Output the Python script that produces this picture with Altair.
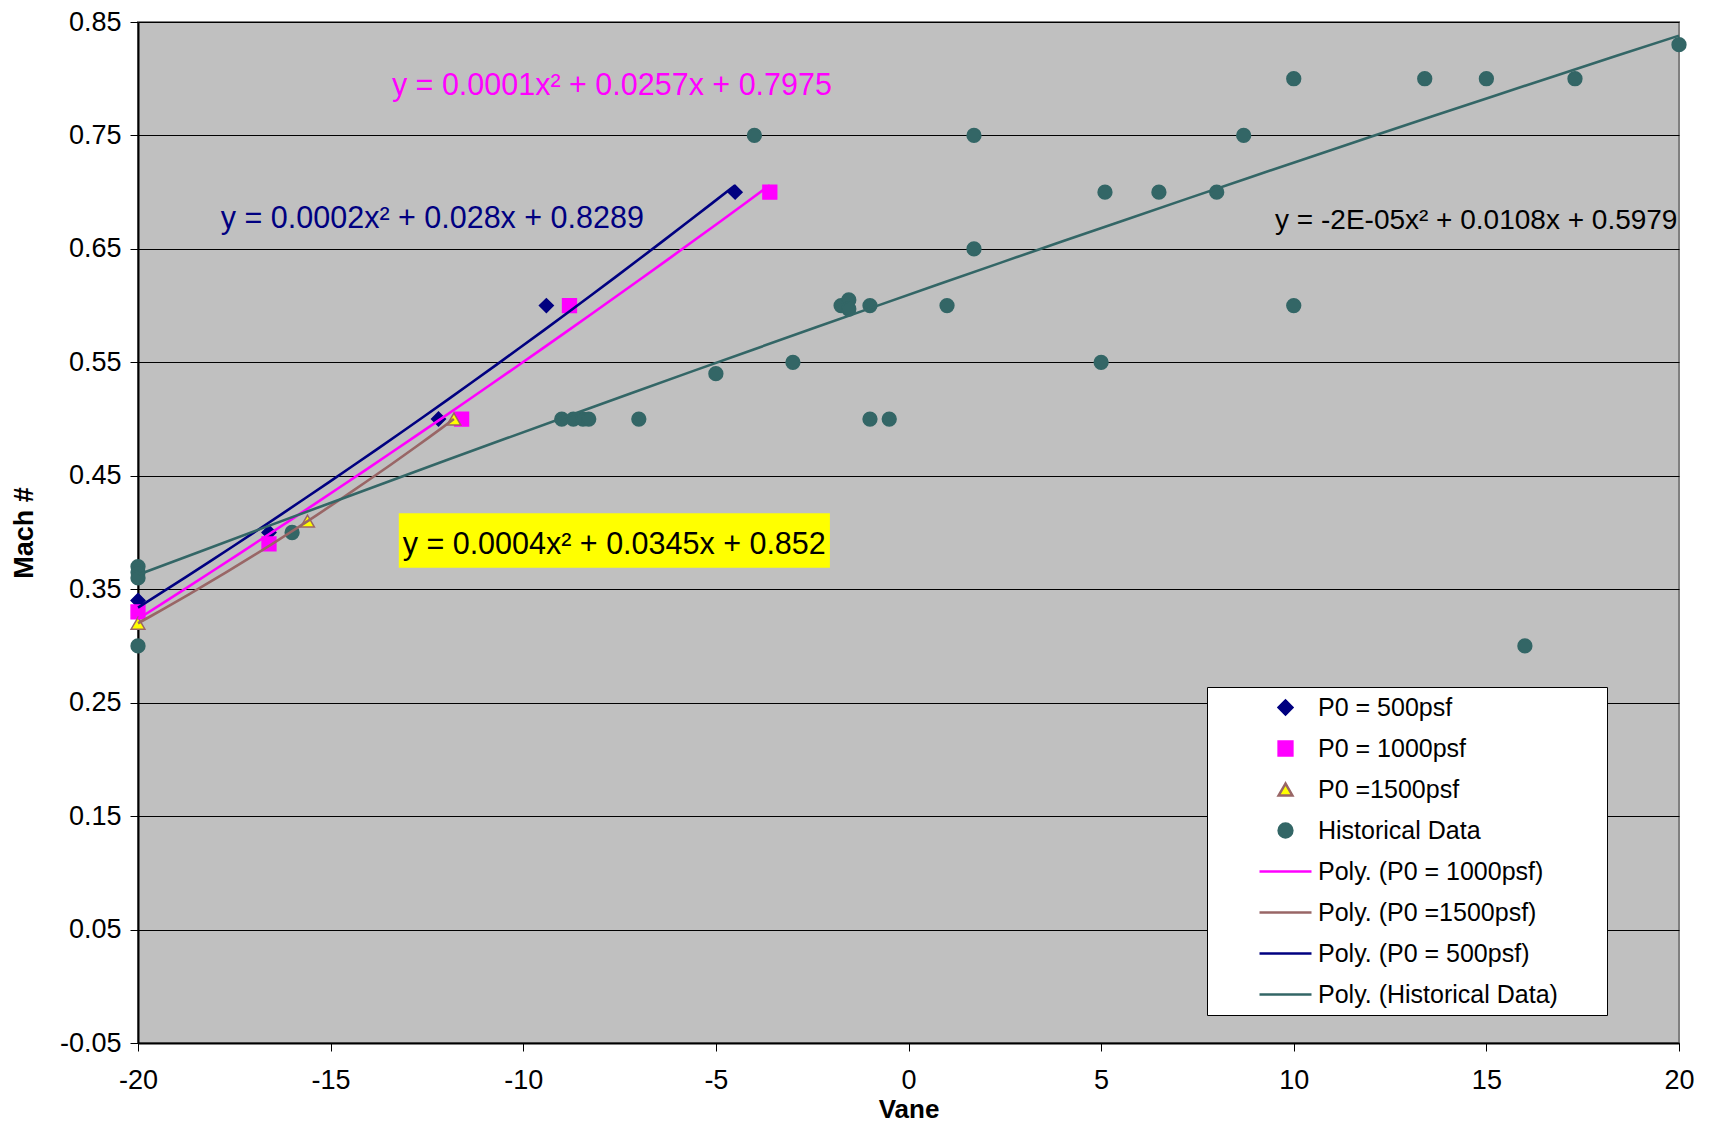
import altair as alt
import pandas as pd

# ---------------- data ----------------
p500_x = [-20.0, -16.6, -12.2, -9.4, -4.5]
p500_y = [0.34, 0.40, 0.50, 0.60, 0.70]

p1000_x = [-20.0, -16.6, -11.6, -8.8, -3.6]
p1000_y = [0.33, 0.39, 0.50, 0.60, 0.70]

p1500_x = [-20.0, -15.6, -11.8]
p1500_y = [0.32, 0.41, 0.50]

# historical points used by the trendline
hist_x = [-20, -20, -20, -16.0, -9.0, -8.7, -8.45, -8.3, -7.0, -5.0, -4.0, -3.0,
          -1.75, -1.55, -1.55, -1.0, -1.0, -0.5, 1.0, 1.7, 1.7, 5.0, 5.1, 6.5, 8.0,
          8.7, 10.0, 10.0, 13.4, 15.0, 17.3, 20.0]
hist_y = [0.37, 0.365, 0.36, 0.40, 0.50, 0.50, 0.50, 0.50, 0.50, 0.54, 0.75, 0.55,
          0.60, 0.605, 0.597, 0.60, 0.50, 0.50, 0.60, 0.75, 0.65, 0.55, 0.70, 0.70, 0.70,
          0.75, 0.80, 0.60, 0.80, 0.80, 0.80, 0.83]
# historical-style points not included in the displayed fit
hist_extra_x = [-20.0, 16.0]
hist_extra_y = [0.30, 0.30]

series_names = ["P0 = 500psf", "P0 = 1000psf", "P0 =1500psf", "Historical Data"]
legend_order = ["P0 = 500psf", "P0 = 1000psf", "P0 =1500psf", "Historical Data",
                "Poly. (P0 = 1000psf)", "Poly. (P0 =1500psf)", "Poly. (P0 = 500psf)",
                "Poly. (Historical Data)"]

x_ticks = [-20, -15, -10, -5, 0, 5, 10, 15, 20]
y_ticks = [-0.05, 0.05, 0.15, 0.25, 0.35, 0.45, 0.55, 0.65, 0.75, 0.85]

# trendline equations shown on the chart
ann_text = ["y = 0.0001x\u00b2 + 0.0257x + 0.7975",
            "y = 0.0002x\u00b2 + 0.028x + 0.8289",
            "y = 0.0004x\u00b2 + 0.0345x + 0.852"]
ann_x = [-13.41, -17.85, -13.13]
ann_y = [0.794, 0.676, 0.389]
ann_color = ["#FF00FF", "#000080", "#000000"]

ann_r_text = ["y = -2E-05x\u00b2 + 0.0108x + 0.5979"]
ann_r_x = [19.96]
ann_r_y = [0.675]

box_x1 = [-13.23]
box_x2 = [-2.04]
box_y1 = [0.417]
box_y2 = [0.369]

# ---------------- tables ----------------
rows = []
for name, xs, ys in zip(series_names,
                        [p500_x, p1000_x, p1500_x, hist_x],
                        [p500_y, p1000_y, p1500_y, hist_y]):
    for xv, yv in zip(xs, ys):
        rows.append({"grp": name, "series": name, "x": xv, "y": yv, "fit": 1})
for xv, yv in zip(hist_extra_x, hist_extra_y):
    rows.append({"grp": "Historical Data", "series": "Historical Data",
                 "x": xv, "y": yv, "fit": 0})
df = pd.DataFrame(rows)

ann_df = pd.DataFrame({"t": ann_text, "x": ann_x, "y": ann_y, "c": ann_color})
ann_r_df = pd.DataFrame({"t": ann_r_text, "x": ann_r_x, "y": ann_r_y})
box_df = pd.DataFrame({"x1": box_x1, "x2": box_x2, "y1": box_y1, "y2": box_y2})

FONT = "Liberation Sans"

shape_scale = alt.Scale(domain=legend_order,
                        range=["diamond", "square", "triangle-up", "circle",
                               "stroke", "stroke", "stroke", "stroke"])
fill_scale = alt.Scale(domain=legend_order,
                       range=["#000080", "#FF00FF", "#FFFF00", "#336666",
                              "transparent", "transparent", "transparent", "transparent"])
stroke_scale = alt.Scale(domain=legend_order,
                         range=["#000080", "#FF00FF", "#996666", "#336666",
                                "#FF00FF", "#996666", "#000080", "#336666"])
size_scale = alt.Scale(type="ordinal", domain=legend_order,
                       range=[190, 190, 190, 190, 2704, 2704, 2704, 2704])

legend = alt.Legend(
    title=None, orient="none", legendX=1069, legendY=665,
    fillColor="white", strokeColor="black", padding=0,
    labelFont=FONT, labelFontSize=25, labelColor="black", labelLimit=800,
    symbolStrokeWidth=2.5, rowPadding=0, clipHeight=41,
    symbolOffset=51, labelOffset=5,
    labelExpr="datum.label + '" + "\u00a0" * 7 + "\u200b'",
)

x_enc = alt.X("x:Q", scale=alt.Scale(domain=[-20, 20], nice=False, zero=False),
              axis=alt.Axis(values=x_ticks, title="Vane", grid=False, labelFlush=False,
                            labelExpr="replace(format(datum.value, 'd'), '\u2212', '-')",
                            tickSize=8, labelPadding=16, titlePadding=3,
                            titleFontSize=26))
y_enc = alt.Y("y:Q", scale=alt.Scale(domain=[-0.05, 0.85], nice=False, zero=False),
              axis=alt.Axis(values=y_ticks, title="Mach #", grid=True, labelFlush=False,
                            labelExpr="replace(format(datum.value, '.2f'), '\u2212', '-')",
                            tickSize=8, labelPadding=9, titleX=-114,
                            titleBaseline="middle"))

base = alt.Chart(df)

points = base.mark_point(opacity=1, strokeWidth=1.5).encode(
    x=x_enc, y=y_enc,
    shape=alt.Shape("series:N", scale=shape_scale, legend=legend),
    fill=alt.Fill("series:N", scale=fill_scale, legend=legend),
    stroke=alt.Stroke("series:N", scale=stroke_scale, legend=legend),
    size=alt.Size("series:N", scale=size_scale, legend=legend),
)

trends = base.transform_filter(
    "datum.fit == 1"
).transform_regression(
    "x", "y", method="poly", order=2, groupby=["grp"]
).transform_calculate(
    series="'Poly. (' + datum.grp + ')'"
).mark_line(strokeWidth=2.6).encode(
    x="x:Q", y="y:Q",
    stroke=alt.Stroke("series:N", scale=stroke_scale, legend=legend),
)

box = alt.Chart(box_df).mark_rect(color="#FFFF00").encode(
    x="x1:Q", x2="x2:Q", y="y1:Q", y2="y2:Q")

ann = alt.Chart(ann_df).mark_text(align="left", baseline="middle", font=FONT,
                                  fontSize=30.5).encode(
    x="x:Q", y="y:Q", text="t:N", color=alt.Color("c:N", scale=None))

ann_r = alt.Chart(ann_r_df).mark_text(align="right", baseline="middle", font=FONT,
                                      fontSize=28, color="black").encode(
    x="x:Q", y="y:Q", text="t:N")

chart = alt.layer(box, points, trends, ann, ann_r).properties(
    width=1541, height=1021,
    autosize=alt.AutoSizeParams(type="none"),
    padding={"left": 130, "top": 14, "right": 20, "bottom": 81},
).configure_view(
    fill="#C0C0C0", stroke="#808080", strokeWidth=2
).configure_axis(
    labelFont=FONT, labelFontSize=27, labelColor="black",
    titleFont=FONT, titleFontSize=27, titleFontWeight="bold", titleColor="black",
    domainColor="black", domainWidth=2, tickColor="black", tickWidth=1,
    gridColor="black", gridWidth=1, gridOpacity=1,
)

chart.save("out.html", embed_options={"renderer": "svg", "actions": False})
